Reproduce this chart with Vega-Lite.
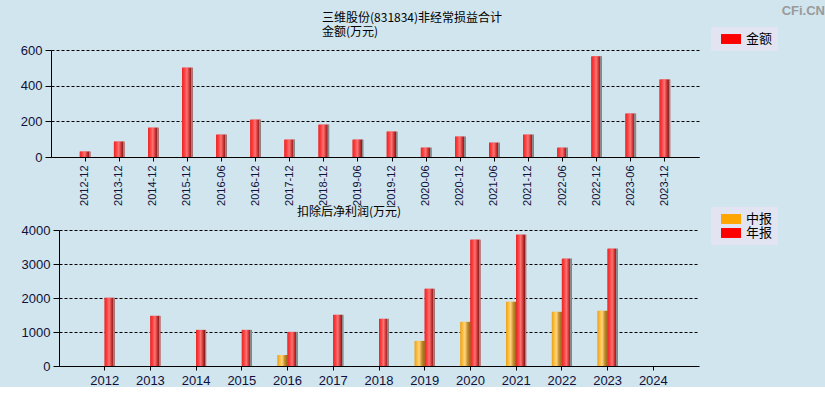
{
  "$schema": "https://vega.github.io/schema/vega-lite/v6.json",
  "background": "#d0e5ee",
  "padding": {"left": 20, "top": 5, "right": 0, "bottom": 0},
  "title": {"text": "CFi.CN", "anchor": "end", "frame": "bounds", "dx": 47, "fontSize": 13, "fontWeight": "bold", "color": "#9a9a9a", "font": "Liberation Sans", "offset": -6},
  "config": {
    "view": {"stroke": null},
    "axis": {"labelFont": "Liberation Sans", "labelColor": "#10103a", "domainColor": "#000000", "tickColor": "#000000", "gridColor": "#000000", "gridDash": [3, 2], "gridOpacity": 1, "labelPadding": 3},
    "legend": {"labelFont": "Noto Sans CJK SC", "labelFontSize": 13, "labelColor": "#000000", "fillColor": "#e2e5f1", "padding": 5, "symbolType": "M-1.43,-0.71H1.43V0.71H-1.43Z", "symbolSize": 196, "symbolStrokeWidth": 0, "rowPadding": 0, "symbolOpacity": 1, "symbolOffset": 8, "labelOffset": 8,
      "encode": {"legend": {"update": {"fill": {"value": {"gradient": "linear", "x1": 0, "y1": 0, "x2": 0, "y2": 1, "stops": [{"offset": 0, "color": "#b7c3e0"}, {"offset": 1, "color": "#f6f6fb"}]}}}}}}
  },
  "resolve": {"scale": {"color": "independent"}, "legend": {"color": "independent"}},
  "concat": [
    {
      "width": 648,
      "height": 107,
      "title": {"text": ["三维股份(831834)非经常损益合计", "金额(万元)"], "anchor": "start", "frame": "group", "dx": 271, "fontSize": 12, "fontWeight": "normal", "font": "Noto Sans CJK SC", "lineHeight": 14, "offset": -12, "color": "#000000"},
      "data": {"values": [
        {"period": "2012-12", "value": 30, "type": "金额"},
        {"period": "2013-12", "value": 86, "type": "金额"},
        {"period": "2014-12", "value": 164, "type": "金额"},
        {"period": "2015-12", "value": 501, "type": "金额"},
        {"period": "2016-06", "value": 125, "type": "金额"},
        {"period": "2016-12", "value": 209, "type": "金额"},
        {"period": "2017-12", "value": 97, "type": "金额"},
        {"period": "2018-12", "value": 181, "type": "金额"},
        {"period": "2019-06", "value": 97, "type": "金额"},
        {"period": "2019-12", "value": 142, "type": "金额"},
        {"period": "2020-06", "value": 52, "type": "金额"},
        {"period": "2020-12", "value": 114, "type": "金额"},
        {"period": "2021-06", "value": 80, "type": "金额"},
        {"period": "2021-12", "value": 125, "type": "金额"},
        {"period": "2022-06", "value": 52, "type": "金额"},
        {"period": "2022-12", "value": 563, "type": "金额"},
        {"period": "2023-06", "value": 243, "type": "金额"},
        {"period": "2023-12", "value": 434, "type": "金额"}
      ]},
      "encoding": {
        "x": {"field": "period", "type": "ordinal", "scale": {"paddingInner": 0.69, "paddingOuter": 0.845}, "axis": {"title": null, "labelAngle": -90, "labelFontSize": 11, "tickSize": 4, "labelPadding": 4}},
        "y": {"field": "value", "type": "quantitative", "scale": {"domain": [0, 600]}, "axis": {"title": null, "values": [0, 200, 400, 600], "format": "d", "labelFontSize": 13, "tickSize": 6}}
      },
      "layer": [
        {"mark": {"type": "bar"}, "encoding": {"color": {"field": "type", "type": "nominal", "scale": {"range": ["#ff0000"]}, "legend": {"title": null, "orient": "none", "legendX": 660, "legendY": -23}}}},
        {"mark": {"type": "bar", "color": {"gradient": "linear", "x1": 0, "x2": 1, "y1": 0, "y2": 0, "stops": [{"offset": 0, "color": "#e62a2a"}, {"offset": 0.2, "color": "#ff3a3a"}, {"offset": 0.45, "color": "#ff7474"}, {"offset": 0.7, "color": "#c83030"}, {"offset": 0.84, "color": "#8c2020"}, {"offset": 0.85, "color": "#8a8a8a"}, {"offset": 1, "color": "#8a8a8a"}]}}}
      ]
    },
    {
      "hconcat": [
        {"width": 1, "height": 136, "data": {"values": []}, "mark": {"type": "point"}},
        {
          "width": 640,
          "height": 136,
          "title": {"text": "扣除后净利润(万元)", "anchor": "start", "frame": "group", "dx": 238, "fontSize": 12, "fontWeight": "normal", "font": "Noto Sans CJK SC", "offset": 5, "color": "#000000"},
          "data": {"values": [
            {"year": "2012", "type": "年报", "value": 2005},
            {"year": "2013", "type": "年报", "value": 1474},
            {"year": "2014", "type": "年报", "value": 1061},
            {"year": "2015", "type": "年报", "value": 1061},
            {"year": "2016", "type": "中报", "value": 324},
            {"year": "2016", "type": "年报", "value": 1002},
            {"year": "2017", "type": "年报", "value": 1504},
            {"year": "2018", "type": "年报", "value": 1386},
            {"year": "2019", "type": "中报", "value": 737},
            {"year": "2019", "type": "年报", "value": 2270},
            {"year": "2020", "type": "中报", "value": 1297},
            {"year": "2020", "type": "年报", "value": 3715},
            {"year": "2021", "type": "中报", "value": 1887},
            {"year": "2021", "type": "年报", "value": 3862},
            {"year": "2022", "type": "中报", "value": 1592},
            {"year": "2022", "type": "年报", "value": 3155},
            {"year": "2023", "type": "中报", "value": 1622},
            {"year": "2023", "type": "年报", "value": 3450}
          ]},
          "encoding": {
            "x": {"field": "year", "type": "ordinal", "scale": {"domain": ["2012", "2013", "2014", "2015", "2016", "2017", "2018", "2019", "2020", "2021", "2022", "2023", "2024"], "paddingInner": 0.5625, "paddingOuter": 0.78}, "axis": {"title": null, "labelAngle": 0, "labelFontSize": 13, "tickSize": 4, "labelPadding": 4}},
            "xOffset": {"field": "type", "type": "nominal", "scale": {"domain": ["中报", "年报"], "paddingInner": 0, "paddingOuter": 0}},
            "y": {"field": "value", "type": "quantitative", "scale": {"domain": [0, 4000]}, "axis": {"title": null, "values": [0, 1000, 2000, 3000, 4000], "format": "d", "labelFontSize": 13, "tickSize": 6}}
          },
          "layer": [
            {"mark": {"type": "bar"}, "encoding": {"color": {"field": "type", "type": "nominal", "scale": {"domain": ["中报", "年报"], "range": ["#ffa500", "#ff0000"]}, "legend": {"title": null, "orient": "none", "legendX": 660, "legendY": -23}}}},
            {"transform": [{"filter": "datum.type === '年报'"}], "mark": {"type": "bar", "color": {"gradient": "linear", "x1": 0, "x2": 1, "y1": 0, "y2": 0, "stops": [{"offset": 0, "color": "#e62a2a"}, {"offset": 0.2, "color": "#ff3a3a"}, {"offset": 0.45, "color": "#ff7474"}, {"offset": 0.7, "color": "#c83030"}, {"offset": 0.84, "color": "#8c2020"}, {"offset": 0.85, "color": "#8a8a8a"}, {"offset": 1, "color": "#8a8a8a"}]}}},
            {"transform": [{"filter": "datum.type === '中报'"}], "mark": {"type": "bar", "color": {"gradient": "linear", "x1": 0, "x2": 1, "y1": 0, "y2": 0, "stops": [{"offset": 0, "color": "#e8a020"}, {"offset": 0.25, "color": "#ffc040"}, {"offset": 0.45, "color": "#ffd480"}, {"offset": 0.7, "color": "#c89030"}, {"offset": 1, "color": "#8c6418"}]}}}
          ]
        }
      ],
      "spacing": 7,
      "bounds": "flush"
    }
  ],
  "columns": 1,
  "bounds": "flush",
  "spacing": 73
}
